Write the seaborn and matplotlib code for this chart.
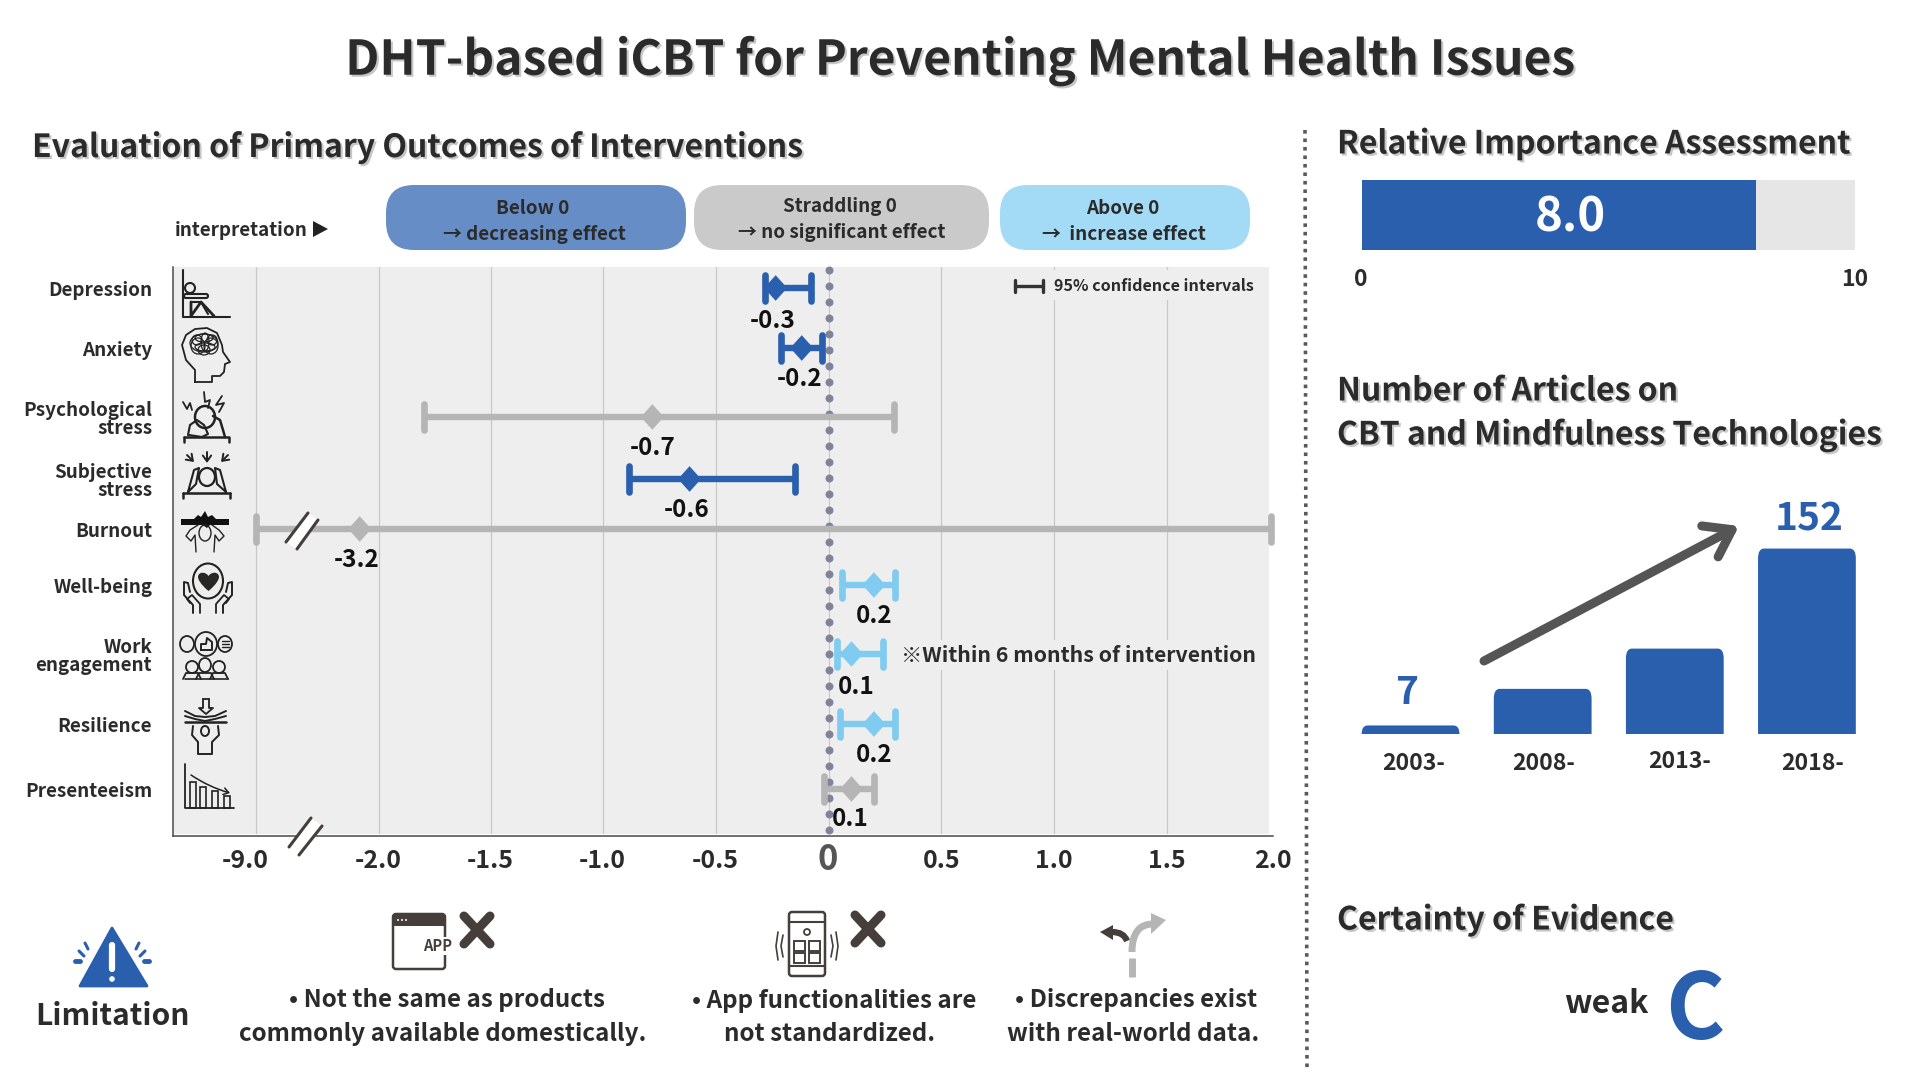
import numpy as np
import pandas as pd
import matplotlib
matplotlib.use("Agg")
import matplotlib.pyplot as plt
import matplotlib.patheffects as pe
from matplotlib.patches import Circle, Ellipse, Polygon, FancyBboxPatch, Rectangle, PathPatch
from matplotlib.path import Path
from matplotlib.markers import MarkerStyle
from matplotlib.transforms import ScaledTranslation
import seaborn as sns

# --- data ---
outcomes = ["Depression", "Anxiety", "Psychological\nstress", "Subjective\nstress", "Burnout",
            "Well-being", "Work\nengagement", "Resilience", "Presenteeism"]
estimate = [-0.235, -0.12, -0.78, -0.615, -3.08, 0.2, 0.1, 0.2, 0.1]
ci_low = [-0.28, -0.21, -1.8, -0.885, -9.0, 0.06, 0.035, 0.05, -0.02]
ci_high = [-0.08, -0.03, 0.29, -0.15, 1.99, 0.295, 0.24, 0.295, 0.2]
shown = ["-0.3", "-0.2", "-0.7", "-0.6", "-3.2", "0.2", "0.1", "0.2", "0.1"]
effect = ["down", "down", "none", "down", "none", "up", "up", "up", "none"]

tick_values = [-9.0, -2.0, -1.5, -1.0, -0.5, 0, 0.5, 1.0, 1.5, 2.0]
tick_labels = ["-9.0", "-2.0", "-1.5", "-1.0", "-0.5", "0", "0.5", "1.0", "1.5", "2.0"]

periods = ["2003-", "2008-", "2013-", "2018-"]
articles = [7, 37, 70, 152]
importance = 8.0
importance_max = 10

# --- layout, in pixels of the 1920x1080 picture ---
row_y = [288, 348, 417, 479, 529, 585, 654, 724, 789]
tick_px = [255.7, 378.7, 490.7, 602.7, 715.5, 829, 941.3, 1054, 1166.7, 1273]
label_nudge = [(-3, 33), (-2, 31), (0, 31), (-3, 31), (-3, 31), (0, 31), (5, 33), (0, 31), (-1, 30)]

BLUE = "#2A5FAE"
LIGHT = "#7FCCF0"
GREY = "#B5B5B5"
INK = "#2B2B2B"
DARK = "#453E3A"
palette = {"down": BLUE, "none": GREY, "up": LIGHT}

sns.set_theme(style="white")
plt.rcParams["font.family"] = ["Noto Sans CJK JP", "DejaVu Sans"]
plt.rcParams["text.color"] = INK
plt.rcParams["axes.unicode_minus"] = False

fig = plt.figure(figsize=(19.2, 10.8), dpi=100, facecolor="white")


def px_axes(left, top, right, bottom):
    return fig.add_axes([left / 1920, 1 - bottom / 1080, (right - left) / 1920, (bottom - top) / 1080])


def shift(artist, dx_px, dy_px):
    artist.set_transform(artist.get_transform() + ScaledTranslation(dx_px / 100, dy_px / 100, fig.dpi_scale_trans))


# --- forest plot with a broken axis ---
scale_x = np.array([-40.0, -13.67] + tick_values + [6.0])
scale_p = np.array([-300.0, 173.0] + tick_px + [2000.0])
ax = px_axes(173, 267, 1273, 836)
ax.set_facecolor("#EEEEEE")
ax.set_xscale("function", functions=(lambda v: np.interp(v, scale_x, scale_p),
                                     lambda p: np.interp(p, scale_p, scale_x)))
ax.set_xlim(-13.67, 2.0)
ax.set_ylim(836, 267)
ax.set_xticks(tick_values)
ax.set_xticklabels(tick_labels, fontsize=18, fontweight="bold", color=INK)
ax.set_yticks(row_y)
ax.set_yticklabels(outcomes, fontsize=13.6, fontweight="bold", color=INK, linespacing=0.95, ha="right")
ax.tick_params(axis="both", length=0)
ax.tick_params(axis="y", pad=15)
ax.tick_params(axis="x", pad=9)
ax.xaxis.grid(True, color="#C8C8C8", lw=0.9)
ax.yaxis.grid(False)
ax.set_axisbelow(True)
for side in ["top", "right"]:
    ax.spines[side].set_visible(False)
for side in ["left", "bottom"]:
    ax.spines[side].set_color("#4A4A4A")
    ax.spines[side].set_linewidth(1.1)
ax.minorticks_off()
# the grey panel stops a little short of the axis lines
ax.axvspan(1.981, 2.0, color="white", lw=0, zorder=1)
ax.axhspan(834, 836, color="white", lw=0, zorder=1)
for lab in ax.get_yticklabels():
    shift(lab, 0, -1)
for lab, val in zip(ax.get_xticklabels(), tick_values):
    if val == 0:
        lab.set_fontsize(25)
        lab.set_color("#555555")
        shift(lab, -1, 7)
    if val == -9.0:
        shift(lab, -10, 0)

# dotted zero line
dot_y = np.arange(270, 836, 16)
ax.scatter(np.zeros(len(dot_y)), dot_y, s=33, color="#80849A", linewidths=0, zorder=1.5, clip_on=False)

df = pd.DataFrame({"x": estimate, "y": row_y, "effect": effect})
for low, high, y, eff in zip(ci_low, ci_high, row_y, effect):
    ax.hlines(y, low, high, color=palette[eff], lw=4.6, zorder=3, clip_on=False)
    ax.vlines([low, high], y - 13, y + 13, color=palette[eff], lw=4.8, capstyle="round", zorder=3, clip_on=False)
diamond = MarkerStyle(Path([(0, 1), (0.9, 0), (0, -1), (-0.9, 0), (0, 1)], closed=True))
sns.scatterplot(data=df, x="x", y="y", hue="effect", palette=palette, marker=diamond, s=340,
                linewidth=0, legend=False, zorder=4, clip_on=False, ax=ax)
ax.set_xlabel("")
ax.set_ylabel("")
for val, y, txt, (dx, dy) in zip(estimate, row_y, shown, label_nudge):
    ax.annotate(txt, (val, y), xytext=(dx * 0.72, -dy * 0.72), textcoords="offset points", ha="center", va="center",
                fontsize=17.5, fontweight="bold", color="#111111", zorder=5)

# --- importance bar ---
ax_imp = px_axes(1362, 180, 1855, 250)
ax_imp.set_facecolor("#E6E6E6")
sns.barplot(x=[importance], y=["score"], orient="h", color=BLUE, saturation=1, width=1, linewidth=0, ax=ax_imp)
ax_imp.set_xlim(0, importance_max)
ax_imp.set_xticks([])
ax_imp.set_yticks([])
ax_imp.set_xlabel("")
ax_imp.set_ylabel("")
sns.despine(ax=ax_imp, left=True, bottom=True)
imp_label = ax_imp.bar_label(ax_imp.containers[0], labels=[f"{importance:.1f}"], label_type="center", color="white",
                             fontsize=34, fontweight="bold")[0]
imp_label.xyann = (8, -2)

# --- article counts ---
ax_art = px_axes(1344.5, 500, 1873, 734)
sns.barplot(x=periods, y=articles, color=BLUE, saturation=1, width=0.74, ax=ax_art)
ax_art.set_xlim(-0.5, 3.5)
ax_art.set_ylim(0, 234 / 1.22)
ax_art.axis("off")
rx = 0.045
ry = 8
for bar in list(ax_art.patches):
    x0, w, h = bar.get_x(), bar.get_width(), bar.get_height()
    r_y = min(ry, h)
    verts = [(x0, 0), (x0, h - r_y), (x0, h), (x0 + rx, h), (x0 + w - rx, h), (x0 + w, h), (x0 + w, h - r_y), (x0 + w, 0), (x0, 0)]
    codes = [Path.MOVETO, Path.LINETO, Path.CURVE3, Path.CURVE3, Path.LINETO, Path.CURVE3, Path.CURVE3, Path.LINETO, Path.CLOSEPOLY]
    ax_art.add_patch(PathPatch(Path(verts, codes), fc=BLUE, ec="none"))
    bar.set_visible(False)

# --- everything drawn around the charts sits on a full-size overlay in pixels ---
ov = fig.add_axes([0, 0, 1, 1], facecolor="none", zorder=10)
ov.set_xlim(0, 1920)
ov.set_ylim(1080, 0)
ov.axis("off")


def say(x, y, s, size, ha="center", color=INK, weight="bold", **kw):
    return ov.text(x, y, s, fontsize=size, ha=ha, va="center", color=color, fontweight=weight, **kw)


def shadowed(t):
    t.set_path_effects([pe.withSimplePatchShadow(offset=(1.5, -1.5), shadow_rgbFace="#999999", alpha=0.55)])


def ln(xs, ys, lw=1.5, c="#222222", **kw):
    ov.plot(xs, ys, color=c, lw=lw, solid_capstyle="round", solid_joinstyle="round", **kw)


def ring(x, y, r, lw=1.5, fc="none", ec="#222222", ry_=None):
    ov.add_patch(Ellipse((x, y), 2 * r, 2 * (ry_ or r), fc=fc, ec=ec, lw=lw))


shadowed(say(960, 61, "DHT-based iCBT for Preventing Mental Health Issues", 34.5))
shadowed(say(32, 148, "Evaluation of Primary Outcomes of Interventions", 23, ha="left"))
shadowed(say(1337, 144.5, "Relative Importance Assessment", 23, ha="left"))
shadowed(say(1337, 391.5, "Number of Articles on", 23, ha="left"))
shadowed(say(1337, 435.5, "CBT and Mindfulness Technologies", 23, ha="left"))
shadowed(say(1337, 920.5, "Certainty of Evidence", 23, ha="left"))

ov.plot([1305, 1307], [130, 1070], color="#5A5A5A", lw=2.6, ls=(0, (1, 1.35)), solid_capstyle="butt")

# interpretation strip
say(175, 231, "interpretation", 13.6, ha="left")
ov.add_patch(Polygon([(313, 221), (313, 237), (328, 229)], fc="#222222", ec="none"))
pills = [(386, 686, "#678DC6", 533, "Below 0", 534, "→ decreasing effect", 208.5, 234.5),
         (694, 989, "#CACACA", 840, "Straddling 0", 842, "→ no significant effect", 206, 232),
         (1000, 1250, "#A3DAF6", 1123, "Above 0", 1124, "→  increase effect", 208.5, 234.5)]
for left, right, col, x1, t1, x2, t2, y1, y2 in pills:
    ov.add_patch(FancyBboxPatch((left + 28, 185 + 28), right - left - 56, 65 - 56,
                                boxstyle="round,pad=28,rounding_size=28", fc=col, ec="none"))
    say(x1, y1, t1, 13.6)
    say(x2, y2, t2, 13.6)

# notes on the forest plot
ov.add_patch(Rectangle((1008, 270), 250, 30, fc="#EEEEEE", ec="none"))
ln([1015, 1043], [286, 286], lw=2.4, c="#333333")
ln([1015, 1015], [280, 292], lw=2.4, c="#333333")
ln([1043, 1043], [280, 292], lw=2.4, c="#333333")
say(1054, 286, "95% confidence intervals", 11.6, ha="left")
say(901, 655, "※Within 6 months of intervention", 15.3, ha="left", bbox=dict(fc="#EEEEEE", ec="none", pad=3))

# axis breaks
for (x1, y1, x2, y2, x3, y3, x4, y4) in [(286, 542, 308, 513, 297, 549, 318, 520), (289, 847, 311, 818, 299, 855, 322, 826)]:
    ov.add_patch(Polygon([(x1, y1), (x2, y2), (x4, y4), (x3, y3)], fc="white", ec="none"))
    ln([x1, x2], [y1, y2], lw=2.2, c=DARK)
    ln([x3, x4], [y3, y4], lw=2.2, c=DARK)

# right hand texts
say(1361, 279, "0", 16.5)
say(1855, 279, "10", 16.5)
say(1407, 692, "7", 28, color=BLUE)
say(1809, 519, "152", 28, color=BLUE)
for px, py, txt in zip([1414, 1544, 1680, 1813], [763, 764, 762, 764], periods):
    say(px, py, txt, 16.6)
ov.annotate("", xy=(1739, 526), xytext=(1484, 661),
            arrowprops=dict(arrowstyle="->,head_length=1.5,head_width=1.05", color="#555555", lw=6.5,
                            capstyle="round", joinstyle="round", shrinkA=0, shrinkB=0))
say(1606, 1004, "weak", 23)
say(1695, 1012, "C", 65, color=BLUE)

# limitation row
ov.add_patch(Polygon([(112, 928), (80, 986), (147, 986)], fc=BLUE, ec=BLUE, lw=2, joinstyle="round"))
ln([112, 112], [945, 969], lw=4.5, c="white")
ov.add_patch(Circle((112, 979), 2.8, fc="white", ec="none"))
for sgn in (-1, 1):
    ln([112 + sgn * 27, 112 + sgn * 24], [943, 949], lw=2.2, c=BLUE)
    ln([112 + sgn * 33, 112 + sgn * 28], [951, 956], lw=2.2, c=BLUE)
    ln([112 + sgn * 37, 112 + sgn * 32], [961, 961], lw=3.5, c=BLUE)
say(112, 1016, "Limitation", 21.5)
for x, y, txt in [(447, 1000, "• Not the same as products"), (443, 1034, "commonly available domestically."),
                  (834, 1001, "• App functionalities are"), (830, 1034, "not standardized."),
                  (1136, 1000, "• Discrepancies exist"), (1133, 1034, "with real-world data.")]:
    say(x, y, txt, 17.4)


def cross(x, y):
    ln([x - 13, x + 13], [y - 14, y + 14], lw=6.5, c=DARK)
    ln([x - 13, x + 13], [y + 14, y - 14], lw=6.5, c=DARK)


# app window
ov.add_patch(FancyBboxPatch((393, 914), 52, 55, boxstyle="round,pad=0,rounding_size=3", fc="white", ec=DARK, lw=1.8))
ov.add_patch(Rectangle((393, 914), 52, 12, fc=DARK, ec="none"))
say(438, 946, "APP", 10.5, color=DARK, bbox=dict(fc="white", ec="none", pad=1))
for dot in (398, 402, 406):
    ov.add_patch(Circle((dot, 920), 1, fc="white", ec="none"))
cross(477, 930)
# phone
ov.add_patch(FancyBboxPatch((789, 912), 36, 64, boxstyle="round,pad=0,rounding_size=3", fc="white", ec=DARK, lw=1.8))
ln([789, 825], [922, 922], lw=1.5, c=DARK)
ln([789, 825], [966, 966], lw=1.5, c=DARK)
ring(807, 932, 3, lw=1.3, ec=DARK)
for cx, cy in [(799, 946), (814, 946), (799, 958), (814, 958)]:
    ov.add_patch(Rectangle((cx - 5, cy - 5), 11, 10, fc="white", ec=DARK, lw=1.4))
ln([778, 776, 778], [932, 946, 960], lw=1.2, c=DARK)
ln([783, 781, 783], [935, 946, 957], lw=1.2, c=DARK)
ln([836, 838, 836], [932, 946, 960], lw=1.2, c=DARK)
ln([831, 833, 831], [935, 946, 957], lw=1.2, c=DARK)
cross(868, 929)
# fork arrow
ov.plot([1132, 1132], [977, 958], color="#B5B5B5", lw=5, solid_capstyle="butt")
ov.add_patch(PathPatch(Path([(1132, 952), (1132, 924), (1153, 924)], [Path.MOVETO, Path.CURVE3, Path.CURVE3]),
                       fc="none", ec="#B5B5B5", lw=5, capstyle="butt"))
ov.add_patch(Polygon([(1166, 920), (1151, 913), (1151, 934)], fc="#B5B5B5", ec="none"))
ov.add_patch(PathPatch(Path([(1127, 941), (1124, 932), (1112, 932)], [Path.MOVETO, Path.CURVE3, Path.CURVE3]),
                       fc="none", ec=DARK, lw=4.5, capstyle="butt"))
ov.add_patch(Polygon([(1100, 932), (1113, 925), (1113, 940)], fc=DARK, ec="none"))

# --- outcome icons ---
# depression
ln([183, 183, 230], [270, 317, 317])
ring(190, 288, 5)
ov.add_patch(FancyBboxPatch((184, 294), 24, 4, boxstyle="round,pad=0,rounding_size=2", fc="none", ec="#222222", lw=1.5))
ln([191, 191, 201, 214], [302, 316, 302, 316], lw=2)
ln([191, 201, 208], [302, 302, 314], lw=1.5)
# anxiety
ln([195, 195, 186, 182, 186, 195, 207, 217, 222, 223, 230, 225, 224, 220, 212, 212, 195],
   [382, 370, 360, 345, 335, 329, 328, 333, 345, 352, 362, 364, 372, 376, 376, 382, 382], lw=1.3)
for cx, cy, rw, rh in [(204, 343, 14, 9), (198, 346, 7, 8), (211, 346, 7, 8), (204, 350, 6, 5), (205, 342, 4, 9),
                       (197, 340, 5, 5), (212, 340, 5, 5), (204, 338, 9, 4), (205, 347, 10, 4)]:
    ov.add_patch(Ellipse((cx, cy), 2 * rw, 2 * rh, fc="none", ec="#222222", lw=0.9))
# psychological stress
ring(205, 417, 10, ry_=11, lw=1.8)
ln([184, 229, 229], [437, 437, 442], lw=1.8)
ln([184, 184], [437, 442], lw=1.8)
ln([188, 190, 197, 204, 208, 202, 189], [435, 425, 420, 425, 434, 437, 435], lw=1.5)
ln([213, 220, 223, 225], [416, 420, 430, 437], lw=1.8)
ln([183, 187, 190, 192], [402, 409, 403, 410], lw=1.3)
ln([204, 205, 210, 208], [392, 402, 400, 408], lw=1.3)
ln([222, 216, 224, 219], [396, 405, 403, 412], lw=1.3)
# subjective stress
ring(207, 477, 8, ry_=9, lw=1.6)
ln([183, 230], [493, 493], lw=1.8)
ln([183, 183], [493, 498], lw=1.8)
ln([230, 230], [493, 498], lw=1.8)
ln([188, 194, 199, 196, 188], [492, 470, 468, 484, 492], lw=1.5)
ln([226, 220, 215, 217, 226], [492, 470, 468, 484, 492], lw=1.5)
for x0, y0, x1, y1 in [(187, 455, 194, 462), (207, 452, 207, 463), (228, 455, 221, 462)]:
    ov.annotate("", xy=(x1, y1), xytext=(x0, y0), arrowprops=dict(arrowstyle="->,head_length=0.35,head_width=0.25", lw=1.4, color="#222222", shrinkA=0, shrinkB=0))
# burnout
ov.add_patch(Rectangle((181, 519), 48, 6, fc="#111111", ec="none"))
ov.add_patch(Polygon([(194, 519), (198, 515), (201, 517), (205, 511), (208, 517), (212, 515), (216, 519), (207, 528)], fc="#111111", ec="none"))
ring(205, 533, 6, ry_=8, lw=1)
ln([198, 190, 186, 191, 195, 196], [525, 530, 536, 541, 535, 552], lw=1)
ln([212, 219, 224, 219, 215, 214], [525, 530, 536, 541, 535, 552], lw=1)
# well-being
ring(208, 581, 15, ry_=17.5, lw=1.5)
ov.add_patch(PathPatch(Path([(208.5, 591), (200, 584), (198, 579), (198, 577), (198, 572), (205, 571), (208.5, 576),
                             (212, 571), (219, 572), (219, 577), (219, 579), (217, 584), (208.5, 591)],
                            [Path.MOVETO] + [Path.CURVE4] * 12), fc="#2A2626", ec="none"))
for sgn in (-1, 1):
    ln([208 + sgn * 15, 208 + sgn * 15, 208 + sgn * 24, 208 + sgn * 24, 208 + sgn * 20, 208 + sgn * 18],
       [613, 605, 595, 582, 583, 592], lw=1.4)
    ln([208 + sgn * 8, 208 + sgn * 8, 208 + sgn * 16, 208 + sgn * 21, 208 + sgn * 18],
       [613, 604, 595, 599, 603], lw=1.3)
# work engagement
ring(206, 644, 11, ry_=12, lw=1.3)
ring(187, 644, 7, ry_=8, lw=1.3)
ring(225, 644, 7, ry_=8, lw=1.3)
ln([201, 201, 206, 207, 212, 212, 201], [650, 644, 644, 638, 642, 650, 650], lw=1.4)
for ly in (641, 644, 647):
    ln([222, 229], [ly, ly], lw=1)
for cx, cy, w, h in [(192, 667, 6, 6), (205, 665, 6, 7), (219, 667, 6, 6)]:
    ring(cx, cy, w, ry_=h, lw=1.3)
    ln([cx - w - 3, cx - w, cx + w, cx + w + 3], [679, 673, 673, 679], lw=1.3)
ln([185, 228], [679, 679], lw=1.2)
# resilience
ln([203, 203, 199, 206, 213, 209, 209], [699, 708, 708, 714, 708, 708, 699], lw=1.3)
ln([203, 209], [699, 699], lw=1.3)
ln([185, 195, 205, 215, 226], [711, 716, 717, 716, 711], lw=1.4)
ln([185, 195, 205, 215, 226], [716, 719, 721, 719, 716], lw=1.4)
ln([185, 226], [722, 722], lw=1.8)
ring(205, 731, 4, ry_=5, lw=1.4)
ln([193, 192, 198, 198, 212, 212, 219, 218], [726, 735, 742, 754, 754, 742, 735, 726], lw=1.4)
# presenteeism
ln([185, 185, 234], [764, 808, 808], lw=1.3)
for bx, top in [(190, 782), (200, 787), (212, 791), (224, 796)]:
    ov.add_patch(Rectangle((bx, top), 6, 808 - top, fc="none", ec="#222222", lw=1.2))
ov.annotate("", xy=(230, 793), xytext=(191, 775), arrowprops=dict(arrowstyle="->,head_length=0.3,head_width=0.2", lw=1.1, color="#222222", connectionstyle="arc3,rad=0.08", shrinkA=0, shrinkB=0))

fig.savefig("out.png", dpi=100)
